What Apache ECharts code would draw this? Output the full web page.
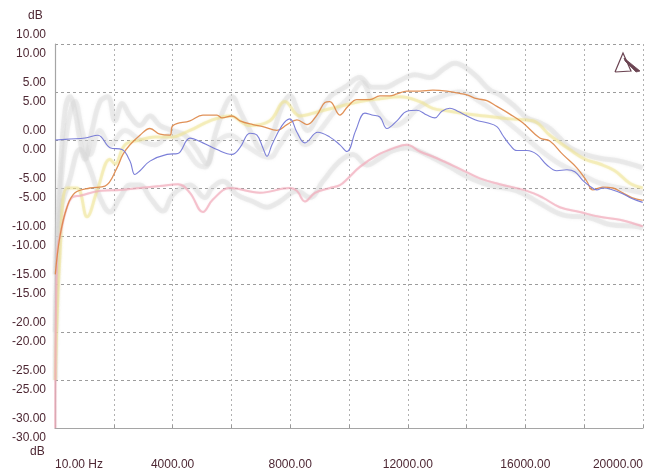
<!DOCTYPE html>
<html>
<head>
<meta charset="utf-8">
<script src="https://cdn.jsdelivr.net/npm/echarts@6/dist/echarts.min.js"></script>
<style>
html,body{margin:0;padding:0;background:#fff;}
#chart{width:659px;height:475px;}
</style>
</head>
<body>
<div id="chart"></div>
<script>
// ---- data (frequency in Hz, level in dB) ----
var xTickValues = [0, 4000, 8000, 12000, 16000, 20000];
var yTickValues = [10, 5, 0, -5, -10, -15, -20, -25, -30];

var blueFreq = [10,510,1020,1460,1870,2280,2550,2720,2890,3230,3810,4180,4590,5030,5510,6020,6290,6630,6870,7070,7210,7380,7720,7990,8230,8500,8940,9350,9690,9930,10230,10540,10780,11050,11290,11630,11970,12310,12650,12920,13160,13430,13700,14010,14380,14690,15030,15230,15470,15710,16050,16390,16730,17070,17410,17680,17950,18190,18430,18630,18970,19310,19620,19990];
var blueDb   = [0.0,0.1,0.2,0.5,-0.8,-1.0,-2.2,-3.6,-3.2,-2.2,-1.5,-1.4,0.2,-0.3,-1.0,-1.5,-0.8,0.7,0.5,-0.8,-1.7,-0.5,1.5,2.2,0.8,-0.3,0.8,0.3,-0.5,-1.2,1.0,2.8,2.6,2.4,1.2,2.0,3.0,3.1,2.6,2.3,3.0,3.3,3.0,2.5,2.0,1.8,1.4,0.5,-0.5,-1.1,-1.1,-1.5,-2.6,-3.2,-3.1,-3.3,-4.2,-4.8,-5.2,-5.0,-5.2,-5.6,-6.1,-6.5];

var orangeFreq = [10,170,408,680,1190,1700,2110,2310,2550,2890,3230,3570,3910,4010,4590,5030,5510,5680,6020,6290,6730,7070,7550,7890,8230,8570,8910,9180,9350,9690,9960,10270,10710,11050,11390,11630,11970,12410,12850,13330,13670,14010,14350,14690,15030,15470,15910,16490,16830,17270,17750,18090,18290,18630,18970,19310,19620,19990];
var orangeDb   = [-14,-10,-7,-5.5,-5,-4.8,-2.9,-1.5,-0.5,0.5,1.2,0.6,0.5,1.5,2.0,2.6,2.6,2.3,2.5,2.0,1.6,1.4,1.0,1.6,2.1,1.6,2.6,3.9,4.0,2.6,3.5,4.2,4.2,4.6,4.6,4.8,5.1,5.1,5.2,5.1,4.9,4.7,4.3,4.1,3.5,2.7,1.8,0.2,-0.1,-1.5,-2.9,-4.3,-5.2,-4.9,-5.0,-5.5,-6.0,-6.3];

var pinkFreq = [10,68,240,410,580,850,1530,2210,2890,3570,4180,4590,5030,5370,5950,6970,7990,8230,8500,8840,9350,9690,9960,10370,10950,11560,11970,12410,12990,13770,14450,15130,16050,16590,17170,17850,18530,19210,19790,19990];
var pinkDb   = [-30,-12,-9,-7,-6,-5.8,-5.3,-5.2,-5.0,-4.8,-4.6,-5.5,-7.5,-6.2,-5.0,-5.5,-5.0,-5.3,-6.4,-5.5,-5.0,-4.7,-4.0,-2.8,-1.6,-0.8,-0.5,-1.2,-1.9,-3.0,-4.0,-4.6,-5.3,-6.0,-7.0,-7.5,-8.0,-8.3,-8.8,-9.0];

var yellowFreq = [10,170,410,750,1090,1430,1870,2040,2380,2890,3400,3910,4590,5270,5950,6630,7310,7820,8330,9010,9690,10370,11050,11730,12410,12850,13430,14010,14620,15470,16250,16830,17510,18020,18530,19040,19550,19990];
var yellowDb   = [-25,-12,-5,-5,-8,-5.3,-2,-2.5,-0.5,0,0.3,0.3,1.0,2.0,2.5,1.5,2.0,4.0,2.5,3.0,3.5,4.0,4.3,4.5,4.0,3.3,3.0,2.7,2.5,2.2,2.0,0.5,-1.0,-2.0,-2.5,-3.2,-4.5,-5.0];

var greyUpperFreq = [10,170,340,510,680,850,1020,1260,1530,1800,2040,2280,2550,2890,3230,3570,3980,4420,4830,5170,5440,5780,6020,6290,6630,7040,7380,7720,7990,8260,8600,8940,9350,9860,10370,10780,11220,11730,12240,12750,13260,13600,13940,14380,14790,15130,15640,16050,16490,16830,17170,17510,18020,18530,19210,19990];
var greyUpperDb   = [-14,-4,3,4.5,3,0,-2,1,4,4.5,2,3.8,2.5,1.5,2.5,1.5,1,0.5,-1,-2.5,0.5,3.5,4.5,3,1,-1,0.5,3.5,4.6,3,1,2.5,4.5,5.5,6.5,5.5,5.5,6.2,6.8,6.5,7.5,8,7.6,6.5,5.2,4.7,3.5,2.3,1.8,1.2,0.2,-0.8,-1.5,-1.9,-2.2,-2.9];

var greyMidFreq = [10,170,410,680,920,1190,1530,1870,2380,2890,3400,3910,4420,4830,5100,5440,5950,6460,6970,7310,7650,8060,8500,9010,9520,10030,10440,10780,11220,11560,11900,12410,13090,13770,14450,15130,15810,16490,17170,17850,18530,19210,19990];
var greyMidDb   = [-20,-6,1,4,1,-1.5,1,-0.5,1,0,-0.5,0.5,-0.8,-2.5,-2.8,-0.5,0.5,-0.5,-1.5,-1.8,-0.5,1,-0.5,1,3,4.5,6,4,2,1.5,2,3.5,4.5,5,4,2.5,0.8,-1,-2.5,-3.5,-4.5,-5,-5.5];

var greyLowerFreq = [10,170,510,850,1190,1530,1870,2210,2550,2890,3230,3670,4010,4590,5100,5340,5710,6190,6730,7210,7650,8230,8670,9110,9690,10130,10610,11050,11490,11970,12410,12750,13430,14010,14550,14890,15710,16390,17270,18190,18870,19790,19990];
var greyLowerDb   = [-25,-8,-4,-1,-3,-6,-7.5,-6,-4.7,-4.7,-6,-7.4,-5.7,-4.7,-6,-5,-4.3,-5.7,-6.4,-7,-6.4,-5.3,-6,-4.3,-2.2,-1.5,-2.6,-1.9,-1.1,-0.8,-1.2,-1.7,-2.8,-3.8,-4.5,-4.8,-5.3,-6.4,-7.8,-8.1,-8.8,-9.0,-9.2];

function pairs(f, d) { return f.map(function (v, i) { return [v, d[i]]; }); }

var labelColor = '#4d2733';
var fontFam = '"Liberation Sans", Arial, sans-serif';

function lineSeries(name, f, d, color, width, opacity, smooth, blur) {
  return {
    name: name, type: 'line', data: pairs(f, d), showSymbol: false, symbol: 'none',
    smooth: smooth, silent: true,
    lineStyle: { color: color, width: width, opacity: opacity,
      shadowBlur: blur || 0, shadowColor: blur ? color : 'transparent' }
  };
}

var chart = echarts.init(document.getElementById('chart'), null, { renderer: 'canvas' });
chart.setOption({
  animation: false,
  backgroundColor: '#ffffff',
  grid: { left: 55, right: 16, top: 44, bottom: 47, containLabel: false },
  xAxis: {
    type: 'value', min: 0, max: 20000, interval: 2000,
    axisLine: { show: true, onZero: false, lineStyle: { color: '#a5a5a5', width: 1.2 } },
    axisTick: { show: true, inside: true, length: 3, lineStyle: { color: '#999' } },
    splitLine: { show: true, lineStyle: { color: '#b0b0b0', type: [2, 3], width: 1 } },
    axisLabel: {
      margin: 31, color: labelColor, fontSize: 12, fontFamily: fontFam,
      alignMinLabel: 'left', alignMaxLabel: 'right',
      formatter: function (v) {
        if (v === 0) return '10.00 Hz';
        return xTickValues.indexOf(v) >= 0 ? v.toFixed(2) : '';
      }
    }
  },
  yAxis: {
    type: 'value', min: -30, max: 10, interval: 5,
    axisLine: { show: true, onZero: false, lineStyle: { color: '#a5a5a5', width: 1.2 } },
    axisTick: { show: false },
    splitLine: { show: true, lineStyle: { color: '#9c9c9c', type: [3, 3], width: 1 } },
    axisLabel: {
      margin: 9, color: labelColor, fontSize: 12, fontFamily: fontFam, lineHeight: 19,
      formatter: function (v) {
        if (yTickValues.indexOf(v) < 0) return '';
        var s = v.toFixed(2);
        return s + '\n' + s;
      }
    }
  },
  graphic: [
    { type: 'text', left: 28, top: 10, style: { text: 'dB', fill: labelColor, font: '12px ' + fontFam } },
    { type: 'text', left: 30, top: 446, style: { text: 'dB', fill: labelColor, font: '12px ' + fontFam } },
    { type: 'polyline', shape: { points: [[615, 72], [623, 53], [631, 71], [615, 72]] },
      style: { stroke: '#6b4452', lineWidth: 1.2, fill: null } },
    { type: 'polygon', shape: { points: [[624, 58], [640, 71], [636, 72], [625, 61]] },
      style: { fill: '#6b4452', stroke: '#6b4452', lineWidth: 0.8 } }
  ],
  series: [
    lineSeries('grey upper', greyUpperFreq, greyUpperDb, '#d4d4d4', 5, 0.32, 0.4, 3),
    lineSeries('grey mid', greyMidFreq, greyMidDb, '#d4d4d4', 5, 0.28, 0.4, 3),
    lineSeries('grey lower', greyLowerFreq, greyLowerDb, '#d4d4d4', 5, 0.32, 0.4, 3),
    lineSeries('yellow', yellowFreq, yellowDb, '#efe28e', 3, 0.42, 0.4, 2),
    lineSeries('pink', pinkFreq, pinkDb, '#f2a9ba', 2, 0.5, 0.4, 1),
    lineSeries('orange', orangeFreq, orangeDb, '#dd8546', 1.3, 0.9, 0.4, 0),
    lineSeries('blue', blueFreq, blueDb, '#7478d6', 1.1, 0.95, 0.4, 0)
  ]
});
</script>
</body>
</html>
